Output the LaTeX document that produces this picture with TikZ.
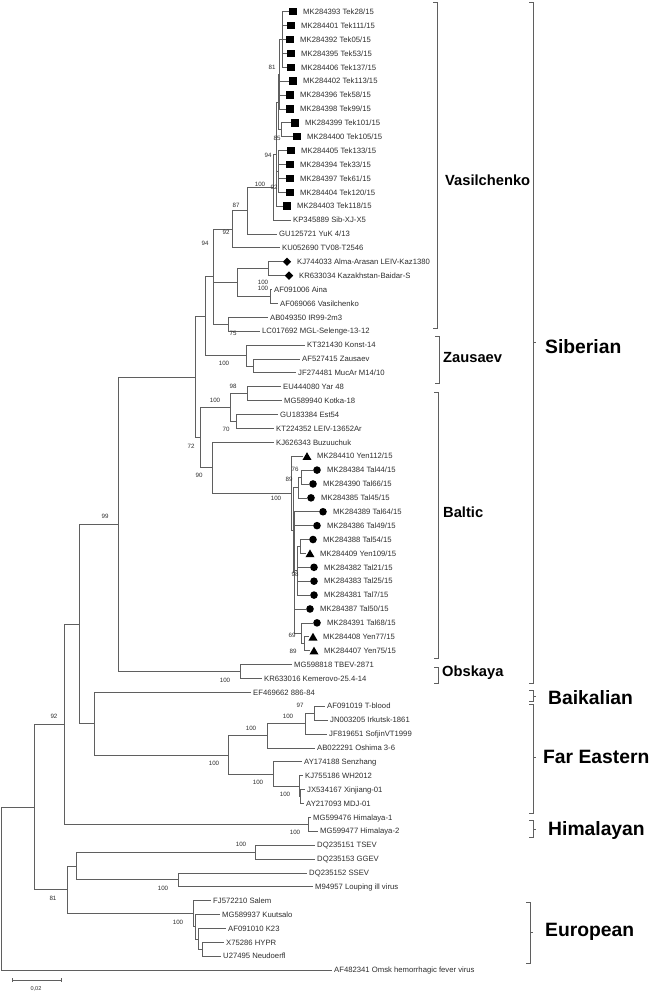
\documentclass[tikz,border=0pt]{standalone}
\usepackage{fontspec}
\setmainfont{Liberation Sans}
\usetikzlibrary{shapes.geometric}
\definecolor{ln}{RGB}{95,95,95}
\definecolor{tx}{RGB}{45,45,45}
\tikzset{
  br/.style={draw=ln, line width=0.7pt},
  lab/.style={anchor=west, inner sep=0pt, text height=5.5pt, text depth=0pt, font=\fontsize{7.7}{8}\selectfont, text=tx},
  bs/.style={inner sep=0pt, text height=4.4pt, text depth=0pt, font=\fontsize{6.2}{7}\selectfont, text=tx},
  sq/.style={rectangle, fill=black, minimum size=7.5pt, inner sep=0pt},
  ci/.style={circle, fill=black, minimum size=7.6pt, inner sep=0pt},
  tri/.style={regular polygon, regular polygon sides=3, fill=black, minimum size=10.4pt, inner sep=0pt, yshift=-1.2pt},
  dia/.style={diamond, fill=black, minimum size=8.5pt, inner sep=0pt},
  clade/.style={anchor=west, inner sep=0pt, font=\bfseries\fontsize{14.7}{16}\selectfont, text=black},
  bigclade/.style={anchor=west, inner sep=0pt, font=\bfseries\fontsize{19.3}{21}\selectfont, text=black},
}
% plain leaf: name, index, tip x, text
\newcommand\pleaf[4]{\coordinate (#1) at (#3,{11.7+(#2-1)*13.89});
  \node[lab] (#1l) at ([xshift=2.5pt]#1) {#4};}
% symbol leaf: name, index, tip x, symbol style, text
\newcommand\sleaf[5]{\coordinate (#1) at (#3,{11.7+(#2-1)*13.89});
  \node[#4] (#1s) at ([xshift=4pt]#1) {};
  \node[lab] (#1l) at ([xshift=14pt]#1) {#5};}
% connect parent to children
\newcommand\cn[2]{\foreach \c in {#2} {\draw[br] (#1) |- (\c);}}
% bootstrap label
\newcommand\bv[4]{\node[bs] (#1) at (#2,#3) {#4};}
\begin{document}
\begin{tikzpicture}[x=1pt,y=-1pt]
\useasboundingbox (0,0) rectangle (650,991);
% ---------------- leaves
\sleaf{t1}{1}{289}{sq}{MK284393 Tek28/15}
\sleaf{t2}{2}{287}{sq}{MK284401 Tek111/15}
\sleaf{t3}{3}{286}{sq}{MK284392 Tek05/15}
\sleaf{t4}{4}{287}{sq}{MK284395 Tek53/15}
\sleaf{t5}{5}{287}{sq}{MK284406 Tek137/15}
\sleaf{t6}{6}{289}{sq}{MK284402 Tek113/15}
\sleaf{t7}{7}{286}{sq}{MK284396 Tek58/15}
\sleaf{t8}{8}{286}{sq}{MK284398 Tek99/15}
\sleaf{t9}{9}{291}{sq}{MK284399 Tek101/15}
\sleaf{t10}{10}{293}{sq}{MK284400 Tek105/15}
\sleaf{t11}{11}{287}{sq}{MK284405 Tek133/15}
\sleaf{t12}{12}{286}{sq}{MK284394 Tek33/15}
\sleaf{t13}{13}{286}{sq}{MK284397 Tek61/15}
\sleaf{t14}{14}{286}{sq}{MK284404 Tek120/15}
\sleaf{t15}{15}{283}{sq}{MK284403 Tek118/15}
\pleaf{t16}{16}{290.5}{KP345889 Sib-XJ-X5}
\pleaf{t17}{17}{276.5}{GU125721 YuK 4/13}
\pleaf{t18}{18}{279.5}{KU052690 TV08-T2546}
\sleaf{t19}{19}{283}{dia}{KJ744033 Alma-Arasan LEIV-Kaz1380}
\sleaf{t20}{20}{285}{dia}{KR633034 Kazakhstan-Baidar-S}
\pleaf{t21}{21}{271.5}{AF091006 Aina}
\pleaf{t22}{22}{277.5}{AF069066 Vasilchenko}
\pleaf{t23}{23}{267.5}{AB049350 IR99-2m3}
\pleaf{t24}{24}{259.5}{LC017692 MGL-Selenge-13-12}
\pleaf{t25}{25}{304.5}{KT321430 Konst-14}
\pleaf{t26}{26}{299.5}{AF527415 Zausaev}
\pleaf{t27}{27}{295.5}{JF274481 MucAr M14/10}
\pleaf{t28}{28}{280.5}{EU444080 Yar 48}
\pleaf{t29}{29}{281.5}{MG589940 Kotka-18}
\pleaf{t30}{30}{277.5}{GU183384 Est54}
\pleaf{t31}{31}{273.5}{KT224352 LEIV-13652Ar}
\pleaf{t32}{32}{273.5}{KJ626343 Buzuuchuk}
\sleaf{t33}{33}{303}{tri}{MK284410 Yen112/15}
\sleaf{t34}{34}{313}{ci}{MK284384 Tal44/15}
\sleaf{t35}{35}{309}{ci}{MK284390 Tal66/15}
\sleaf{t36}{36}{307}{ci}{MK284385 Tal45/15}
\sleaf{t37}{37}{319}{ci}{MK284389 Tal64/15}
\sleaf{t38}{38}{313}{ci}{MK284386 Tal49/15}
\sleaf{t39}{39}{309}{ci}{MK284388 Tal54/15}
\sleaf{t40}{40}{306}{tri}{MK284409 Yen109/15}
\sleaf{t41}{41}{310}{ci}{MK284382 Tal21/15}
\sleaf{t42}{42}{310}{ci}{MK284383 Tal25/15}
\sleaf{t43}{43}{310}{ci}{MK284381 Tal7/15}
\sleaf{t44}{44}{306}{ci}{MK284387 Tal50/15}
\sleaf{t45}{45}{313}{ci}{MK284391 Tal68/15}
\sleaf{t46}{46}{309}{tri}{MK284408 Yen77/15}
\sleaf{t47}{47}{310}{tri}{MK284407 Yen75/15}
\pleaf{t48}{48}{291.5}{MG598818 TBEV-2871}
\pleaf{t49}{49}{261.5}{KR633016 Kemerovo-25.4-14}
\pleaf{t50}{50}{250.5}{EF469662 886-84}
\pleaf{t51}{51}{324.5}{AF091019 T-blood}
\pleaf{t52}{52}{327.5}{JN003205 Irkutsk-1861}
\pleaf{t53}{53}{326.5}{JF819651 SofjinVT1999}
\pleaf{t54}{54}{314.5}{AB022291 Oshima 3-6}
\pleaf{t55}{55}{301.5}{AY174188 Senzhang}
\pleaf{t56}{56}{302.5}{KJ755186 WH2012}
\pleaf{t57}{57}{304.5}{JX534167 Xinjiang-01}
\pleaf{t58}{58}{303.5}{AY217093 MDJ-01}
\pleaf{t59}{59}{310.5}{MG599476 Himalaya-1}
\pleaf{t60}{60}{317.5}{MG599477 Himalaya-2}
\pleaf{t61}{61}{314.5}{DQ235151 TSEV}
\pleaf{t62}{62}{314.5}{DQ235153 GGEV}
\pleaf{t63}{63}{306.5}{DQ235152 SSEV}
\pleaf{t64}{64}{312.5}{M94957 Louping ill virus}
\pleaf{t65}{65}{210.5}{FJ572210 Salem}
\pleaf{t66}{66}{219.5}{MG589937 Kuutsalo}
\pleaf{t67}{67}{225.5}{AF091010 K23}
\pleaf{t68}{68}{223.5}{X75286 HYPR}
\pleaf{t69}{69}{220.5}{U27495 Neudoerfl}
\pleaf{t70}{70}{331.5}{AF482341 Omsk hemorrhagic fever virus}
% ---------------- internal nodes
\coordinate (TA) at (282,39.5);
\coordinate (T81) at (279.5,74.2);
\coordinate (T85) at (281,129.8);
\coordinate (TU) at (278,102.0);
\coordinate (T92) at (278.5,171.4);
\coordinate (T94) at (276,154.1);
\coordinate (N100a) at (273,187.1);
\coordinate (N87) at (247,210.5);
\coordinate (N92) at (232,229.2);
\coordinate (NKK) at (268,268.7);
\coordinate (NAV) at (270.5,296.4);
\coordinate (N94b) at (237,282.5);
\coordinate (N75) at (228,324.2);
\coordinate (V) at (213,276.7);
\coordinate (ZN2) at (253,365.9);
\coordinate (ZN) at (246,355.5);
\coordinate (VZ) at (205,316.1);
\coordinate (N98a) at (247,393.7);
\coordinate (N70) at (236,421.5);
\coordinate (N100b) at (230,407.6);
\coordinate (N76) at (301,477.0);
\coordinate (N89) at (298,487.4);
\coordinate (Na) at (300,546.5);
\coordinate (N98) at (297,570.8);
\coordinate (N89b) at (304,643.7);
\coordinate (N69) at (301,633.3);
\coordinate (BTn) at (294.5,572.5);
\coordinate (BTm) at (293,530.0);
\coordinate (BT) at (291,493.1);
\coordinate (N90) at (212,467.7);
\coordinate (N72) at (200,437.7);
\coordinate (VZB) at (195,376.9);
\coordinate (Obsk) at (240,671.5);
\coordinate (S) at (118,524.2);
\coordinate (N97) at (314,713.2);
\coordinate (N100c) at (305,723.6);
\coordinate (FE1) at (267,735.8);
\coordinate (Nx) at (300,796.5);
\coordinate (N100d) at (299,786.1);
\coordinate (FE2) at (273,773.9);
\coordinate (FE) at (228,754.9);
\coordinate (C) at (94,723.6);
\coordinate (B) at (79,623.9);
\coordinate (Him) at (308,824.3);
\coordinate (A1) at (64,724.1);
\coordinate (TS) at (255,852.0);
\coordinate (SL) at (178,879.8);
\coordinate (A2a) at (76,865.9);
\coordinate (E4) at (202,949.3);
\coordinate (E3) at (198,938.9);
\coordinate (E2) at (195,926.7);
\coordinate (Eu) at (193,913.7);
\coordinate (A2) at (67,889.8);
\coordinate (A) at (34,807.0);
\coordinate (root) at (1,888.5);
% ---------------- branches
\cn{TA}{t1,t2,t3,t4,t5}
\cn{T81}{TA,t6,t7,t8}
\cn{T85}{t9,t10}
\cn{TU}{T81,T85}
\cn{T92}{t11,t12,t13,t14}
\cn{T94}{TU,T92,t15}
\cn{N100a}{T94,t16}
\cn{N87}{N100a,t17}
\cn{N92}{N87,t18}
\cn{NKK}{t19,t20}
\cn{NAV}{t21,t22}
\cn{N94b}{NKK,NAV}
\cn{N75}{t23,t24}
\cn{V}{N92,N94b,N75}
\cn{ZN2}{t26,t27}
\cn{ZN}{t25,ZN2}
\cn{VZ}{V,ZN}
\cn{N98a}{t28,t29}
\cn{N70}{t30,t31}
\cn{N100b}{N98a,N70}
\cn{N76}{t34,t35}
\cn{N89}{N76,t36}
\cn{Na}{t39,t40}
\cn{N98}{Na,t41,t42,t43}
\cn{N89b}{t46,t47}
\cn{N69}{t45,N89b}
\cn{BTn}{t37,t38,N98,t44,N69}
\cn{BTm}{N89,BTn}
\cn{BT}{t33,BTm}
\cn{N90}{t32,BT}
\cn{N72}{N100b,N90}
\cn{VZB}{VZ,N72}
\cn{Obsk}{t48,t49}
\cn{S}{VZB,Obsk}
\cn{N97}{t51,t52}
\cn{N100c}{N97,t53}
\cn{FE1}{N100c,t54}
\cn{Nx}{t57,t58}
\cn{N100d}{t56,Nx}
\cn{FE2}{t55,N100d}
\cn{FE}{FE1,FE2}
\cn{C}{t50,FE}
\cn{B}{S,C}
\cn{Him}{t59,t60}
\cn{A1}{B,Him}
\cn{TS}{t61,t62}
\cn{SL}{t63,t64}
\cn{A2a}{TS,SL}
\cn{E4}{t68,t69}
\cn{E3}{t67,E4}
\cn{E2}{t66,E3}
\cn{Eu}{t65,E2}
\cn{A2}{A2a,Eu}
\cn{A}{A1,A2}
\cn{root}{A,t70}
% ---------------- bootstrap values
\bv{b1}{272}{67}{81}
\bv{b2}{277}{138}{85}
\bv{b3}{268}{155}{94}
\bv{b4}{260}{184}{100}
\bv{b5}{274}{187}{92}
\bv{b6}{236}{205}{87}
\bv{b7}{226}{232}{92}
\bv{b8}{205}{243}{94}
\bv{b9}{263}{282}{100}
\bv{b10}{263}{288}{100}
\bv{b11}{233}{333}{75}
\bv{b12}{224}{363}{100}
\bv{b13}{233}{386}{98}
\bv{b14}{215}{400}{100}
\bv{b15}{226}{429}{70}
\bv{b16}{191}{446}{72}
\bv{b17}{199}{475}{90}
\bv{b18}{276}{498}{100}
\bv{b19}{295}{469}{76}
\bv{b20}{289}{479}{89}
\bv{b21}{295}{574}{98}
\bv{b22}{292}{635}{69}
\bv{b23}{293}{651}{89}
\bv{b24}{225}{680}{100}
\bv{b25}{300}{705}{97}
\bv{b26}{288}{716}{100}
\bv{b27}{251}{728}{100}
\bv{b28}{214}{763}{100}
\bv{b29}{258}{782}{100}
\bv{b30}{285}{794}{100}
\bv{b31}{295}{832}{100}
\bv{b32}{241}{844}{100}
\bv{b33}{163}{888}{100}
\bv{b34}{178}{922}{100}
\bv{b35}{105}{516}{99}
\bv{b36}{54}{716}{92}
\bv{b37}{53}{898}{81}
% ---------------- scale bar
\coordinate (sb1) at (12,980);
\coordinate (sb2) at (61,980);
\draw[br] (sb1) -- (sb2);
\draw[br] ([yshift=2pt]sb1) -- ([yshift=-2pt]sb1);
\draw[br] ([yshift=2pt]sb2) -- ([yshift=-2pt]sb2);
\node[bs, font=\fontsize{5.6}{6}\selectfont] (sbl) at (36,988) {0,02};
% ---------------- clade brackets
\newcommand\brk[3]{\draw[br] (#1-4,#2) -- (#1,#2) -- (#1,#3) -- (#1-4,#3);}
\newcommand\brkm[4]{\draw[br] (#1-4,#2) -- (#1,#2) -- (#1,#3) -- (#1-4,#3); \draw[br] (#1,#4) -- (#1+3,#4);}
\brk{437}{2}{328}
\brk{439}{336}{383}
\brk{438}{392}{658}
\brk{438}{667}{683}
\brkm{533}{2}{683}{342}
\brkm{533}{690}{701}{696}
\brkm{533}{704}{813}{757}
\brkm{533}{820}{837}{829}
\brkm{530}{902}{963}{932}
\node[clade] (cV) at (445,180) {Vasilchenko};
\node[clade] (cZ) at (443,358) {Zausaev};
\node[clade] (cB) at (443,512) {Baltic};
\node[clade] (cO) at (442,673) {Obskaya};
\node[bigclade] (cS) at (545,347) {Siberian};
\node[bigclade] (cBk) at (548,698) {Baikalian};
\node[bigclade] (cF) at (543,757) {Far Eastern};
\node[bigclade] (cH) at (548,830) {Himalayan};
\node[bigclade] (cE) at (545,932) {European};
\end{tikzpicture}
\end{document}
